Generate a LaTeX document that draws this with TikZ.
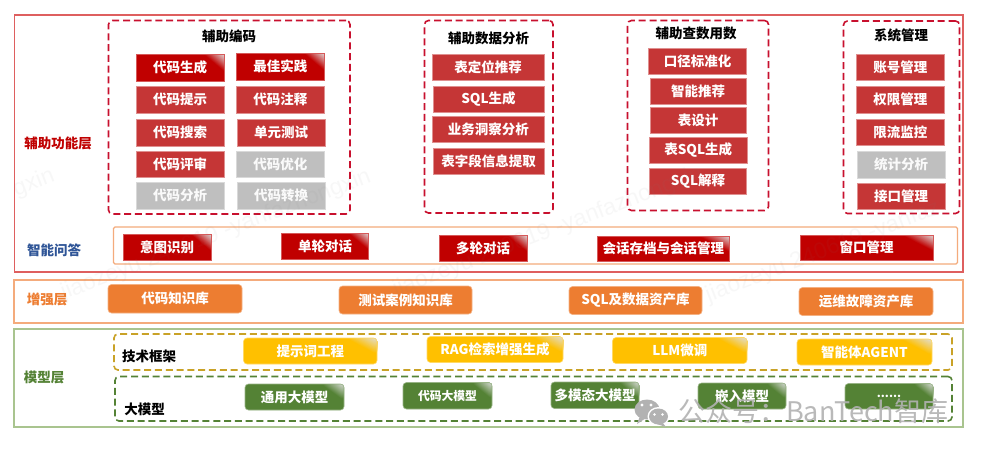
\documentclass[tikz,border=0pt]{standalone}
\usepackage{fontspec}
\setmainfont{Noto Sans CJK SC}
\usetikzlibrary{calc}
\definecolor{cdark}{HTML}{C00000}
\definecolor{cred}{HTML}{C53636}
\definecolor{cgray}{HTML}{BFBFBF}
\definecolor{corange}{HTML}{ED7D31}
\definecolor{cgold}{HTML}{FFC000}
\definecolor{cgreen}{HTML}{548235}
\definecolor{fred}{HTML}{DE5F5F}
\definecolor{forange}{HTML}{F4AB7C}
\definecolor{fgreen}{HTML}{A9C48F}
\definecolor{dred}{HTML}{C8102E}
\definecolor{dgold}{HTML}{C9A227}
\definecolor{dgreen}{HTML}{548235}
\definecolor{lred}{HTML}{C00000}
\definecolor{lblue}{HTML}{2F5597}
\definecolor{lorange}{HTML}{ED7D31}
\definecolor{wmgray}{HTML}{B2B2B2}
\definecolor{cshine}{HTML}{E0E0E0}
\tikzset{
  boxbase/.style={inner sep=0pt,outer sep=0pt,text=white,font=\bfseries\fontsize{13.5}{14}\selectfont},
  redbox/.style={boxbase,fill=cred,draw=cred!55!white,line width=.6pt},
  graybox/.style={boxbase,fill=cgray,draw=cgray!60!white,line width=.6pt,text=white!92!cgray},
  shine/.style={path picture={
    \path (path picture bounding box.north east) coordinate (ne);
    \foreach \t in {1,.95,.9,.85,.8,.75,.7,.65,.6,.55,.5,.45,.4,.35,.3,.25,.2,.15,.1,.05}{
      \pgfmathsetmacro{\tx}{\bxw*.24*\t}\pgfmathsetmacro{\ty}{\bxh*.66*\t}\pgfmathsetmacro{\pp}{100*\t}
      \fill[#1!\pp!cshine] ($(ne)+(-\tx pt,0pt)$) -- (ne) -- ($(ne)+(0pt,-\ty pt)$) -- cycle;
    }}},
  darkbox/.style={boxbase,fill=cdark,draw=cdark!65!white,line width=.5pt,shine=cdark},
  orangebox/.style={boxbase,fill=corange,draw=corange!60!white,line width=.6pt,rounded corners=3.5pt},
  goldbox/.style={boxbase,fill=cgold,draw=cgold!60!white,line width=.6pt,rounded corners=3.5pt,shine=cgold},
  greenbox/.style={boxbase,fill=cgreen,draw=cgreen!60!white,line width=.6pt,rounded corners=3.5pt,shine=cgreen},
  framebox/.style={inner sep=0pt,outer sep=0pt,line width=1.1pt,draw=#1},
  dashbox/.style={inner sep=0pt,outer sep=0pt,line width=1.6pt,draw=#1,dash pattern=on 7pt off 3.8pt,rounded corners=4pt},
  title/.style={inner sep=0pt,font=\bfseries\fontsize{13.5}{14}\selectfont,text=#1},
  wmtext/.style={inner sep=0pt,font=\fontsize{23}{24}\selectfont\fontspec{Liberation Sans},text=gray,opacity=.06,rotate=21},
}
% name, x1, y1, x2, y2, style, text
\newcommand{\bx}[7]{%
  \pgfmathsetmacro{\bxw}{#4-#2}\pgfmathsetmacro{\bxh}{#5-#3}%
  \pgfmathsetmacro{\bxx}{(#2+#4)/2}\pgfmathsetmacro{\bxy}{(#3+#5)/2}%
  \node[#6,minimum width=\bxw pt,minimum height=\bxh pt,anchor=center] (#1) at (\bxx,\bxy) {#7};}
\begin{document}
\begin{tikzpicture}[x=1pt,y=-1pt]
\useasboundingbox[fill=white] (0,0) rectangle (981,451);
% layer frames
\bx{layerA}{14.5}{15}{963}{272}{framebox=fred}{}
\bx{layerB}{14}{280}{963}{323}{framebox=forange}{}
\bx{layerC}{14}{329}{963}{427}{framebox=fgreen}{}
\bx{qaframe}{113.5}{227}{957.5}{264}{framebox=forange,rounded corners=1.5pt}{}
% dashed groups
\bx{grpA}{108.5}{20.5}{350}{214}{dashbox=dred}{}
\bx{grpB}{424.5}{20.5}{553}{213}{dashbox=dred}{}
\bx{grpC}{627.5}{20.5}{768.5}{210.5}{dashbox=dred}{}
\bx{grpD}{843.5}{21}{959.5}{213.5}{dashbox=dred}{}
\bx{grpE}{114}{334}{952}{370}{dashbox=dgold}{}
\bx{grpF}{115}{376.5}{952}{421}{dashbox=dgreen}{}
% labels
\node[title=lred] (lA) at (58,143) {辅助功能层};
\node[title=lblue] (lQ) at (54,250) {智能问答};
\node[title=lorange] (lB) at (47,299) {增强层};
\node[title=dgreen] (lC) at (44,377) {模型层};
\node[title=black] (tA) at (229,36) {辅助编码};
\node[title=black] (tB) at (488.5,38) {辅助数据分析};
\node[title=black] (tC) at (696,33.5) {辅助查数用数};
\node[title=black] (tD) at (901,35) {系统管理};
\node[title=black] (tE) at (149,356) {技术框架};
\node[title=black] (tF) at (144.5,409.5) {大模型};
% group A
\bx{a1}{136}{54}{224}{81}{darkbox}{代码生成}
\bx{a2}{236.5}{53}{324}{80}{darkbox}{最佳实践}
\bx{a3}{136}{86}{224}{113}{redbox}{代码提示}
\bx{a4}{236.5}{86}{324}{113}{redbox}{代码注释}
\bx{a5}{136}{119}{224}{146}{redbox}{代码搜索}
\bx{a6}{237}{119}{325}{146}{redbox}{单元测试}
\bx{a7}{136}{151}{224}{177}{redbox}{代码评审}
\bx{a8}{236.5}{151}{324}{177}{graybox}{代码优化}
\bx{a9}{136}{182}{224}{209}{graybox}{代码分析}
\bx{a10}{237}{182}{325}{209}{graybox}{代码转换}
% group B
\bx{b1}{432}{54}{544}{80.5}{redbox}{表定位推荐}
\bx{b2}{433}{86}{544}{112}{redbox}{SQL生成}
\bx{b3}{432.5}{116}{544}{142}{redbox}{业务洞察分析}
\bx{b4}{433}{148}{544}{174}{redbox}{表字段信息提取}
% group C
\bx{c1}{648.5}{48}{746.5}{74}{redbox}{口径标准化}
\bx{c2}{650}{78}{746}{104}{redbox}{智能推荐}
\bx{c3}{650}{107}{746}{133}{redbox}{表设计}
\bx{c4}{649.5}{137}{747}{163}{redbox}{表SQL生成}
\bx{c5}{649.5}{168.5}{746.5}{194.5}{redbox}{SQL解释}
% group D
\bx{d1}{856.5}{54}{944}{80}{redbox}{账号管理}
\bx{d2}{856.5}{86.5}{944}{113}{redbox}{权限管理}
\bx{d3}{856.5}{119}{944}{145}{redbox}{限流监控}
\bx{d4}{857}{151.5}{945}{178}{graybox}{统计分析}
\bx{d5}{857}{183}{945}{209}{redbox}{接口管理}
% QA row
\bx{q1}{123}{234}{211}{260.5}{darkbox}{意图识别}
\bx{q2}{281.5}{233}{368.5}{259}{darkbox}{单轮对话}
\bx{q3}{439}{235}{527}{261}{darkbox}{多轮对话}
\bx{q4}{597}{236}{729.5}{261}{darkbox}{会话存档与会话管理}
\bx{q5}{800}{235}{933}{260}{darkbox}{窗口管理}
% enhancement row
\bx{e1}{108}{284.5}{242}{313}{orangebox}{代码知识库}
\bx{e2}{339}{286}{472}{314}{orangebox}{测试案例知识库}
\bx{e3}{569}{286.5}{702}{314.5}{orangebox}{SQL及数据资产库}
\bx{e4}{799}{287.5}{933}{315.5}{orangebox}{运维故障资产库}
% framework row
\bx{f1}{243.5}{338}{377}{364}{goldbox}{提示词工程}
\bx{f2}{427}{336.5}{563}{362.5}{goldbox}{RAG检索增强生成}
\bx{f3}{612.5}{337.5}{747}{363.5}{goldbox}{LLM微调}
\bx{f4}{797}{339}{932}{365}{goldbox}{智能体AGENT}
% model row
\bx{m1}{245}{384}{344}{410}{greenbox}{通用大模型}
\bx{m2}{403}{382.5}{492}{409}{greenbox,font=\bfseries\fontsize{11.8}{12}\selectfont}{代码大模型}
\bx{m3}{551}{382}{639}{408.5}{greenbox}{多模态大模型}
\bx{m4}{698}{383}{786}{409}{greenbox}{嵌入模型}
\bx{m5}{845}{383.5}{933}{409}{greenbox,font=\bfseries\fontsize{11.5}{12}\selectfont}{\raisebox{-2.5pt}{......}}
% faint diagonal marks
\node[wmtext] (w1) at (34,183) {gxin};
\node[wmtext] (w2) at (216,235) {jiaozeyu 240619 -yanfazhongxin};
\node[wmtext] (w3) at (548,232) {jiaozeyu 240619 -yanfazhongxin};
\node[wmtext] (w4) at (823,252) {jiaozeyu 240619 -yanfaz};
% WeChat mark
\fill[wmgray] (647,409.5) ellipse [x radius=12.5,y radius=10];
\fill[wmgray] (640,416) -- (637,424) -- (646,418) -- cycle;
\fill[white] (658.5,416.5) ellipse [x radius=11,y radius=9.5];
\fill[wmgray] (658.5,416.5) ellipse [x radius=9.5,y radius=8];
\fill[wmgray] (662,422) -- (666,427) -- (657,424) -- cycle;
\fill[white] (642,405) circle (1.7) (651,405) circle (1.7) (654.5,414.5) circle (1.4) (662.5,414.5) circle (1.4);
\node[inner sep=0pt,anchor=west,text=wmgray,opacity=.9,font=\fontsize{27}{28}\selectfont] (wm) at (678,411.5) {公众号：BanTech智库};
\end{tikzpicture}
\end{document}
